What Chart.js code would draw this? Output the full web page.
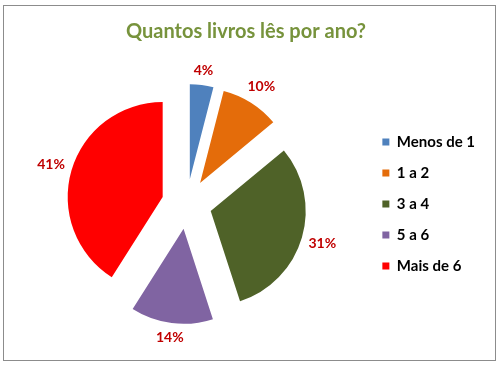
<!DOCTYPE html>
<html>
<head>
<meta charset="utf-8">
<script src="https://cdn.jsdelivr.net/npm/chart.js@4/dist/chart.umd.min.js"></script>
<style>
  html, body { margin: 0; padding: 0; background: #ffffff; }
  #wrap { position: relative; width: 498px; height: 365px; }
</style>
</head>
<body>
<div id="wrap"><canvas id="c" width="498" height="365"></canvas></div>
<script>
const title = 'Quantos livros lês por ano?';
const categories = ['Menos de 1', '1 a 2', '3 a 4', '5 a 6', 'Mais de 6'];
const percentages = [4, 10, 31, 14, 41];
const sliceColors = ['#4F81BD', '#E46C0A', '#4F6228', '#8064A2', '#FF0000'];

const EXPLODE = 25;
const FONT = 'Lato, "Open Sans", "Liberation Sans", sans-serif';

const chartBorder = {
  id: 'chartBorder',
  beforeDraw(chart) {
    const ctx = chart.ctx;
    ctx.save();
    ctx.strokeStyle = '#8c8c8c';
    ctx.lineWidth = 1;
    ctx.strokeRect(3.5, 5.5, 492, 355);
    ctx.restore();
  }
};

const explodedPie = {
  id: 'explodedPie',
  beforeDatasetDraw(chart, args) {
    const meta = args.meta;
    const ctx = chart.ctx;
    meta.data.forEach(arc => {
      const mid = (arc.startAngle + arc.endAngle) / 2;
      ctx.save();
      ctx.translate(Math.cos(mid) * EXPLODE, Math.sin(mid) * EXPLODE);
      arc.draw(ctx);
      ctx.restore();
    });
    return false;
  }
};

const outsideLabels = {
  id: 'outsideLabels',
  afterDatasetsDraw(chart) {
    const ctx = chart.ctx;
    const meta = chart.getDatasetMeta(0);
    ctx.save();
    ctx.font = 'bold 14px ' + FONT;
    ctx.fillStyle = '#C00000';
    ctx.textAlign = 'center';
    ctx.textBaseline = 'middle';
    meta.data.forEach((arc, i) => {
      const mid = (arc.startAngle + arc.endAngle) / 2;
      const dx = Math.cos(mid), dy = Math.sin(mid);
      const txt = percentages[i] + '%';
      const hw = ctx.measureText(txt).width / 2;
      const hh = 7;
      const d = EXPLODE + arc.outerRadius + 6 + hw * Math.abs(dx) + hh * Math.abs(dy);
      ctx.fillText(txt, arc.x + dx * d, arc.y + dy * d);
    });
    ctx.restore();
  }
};

new Chart(document.getElementById('c'), {
  type: 'pie',
  data: {
    labels: categories,
    datasets: [{
      data: percentages,
      backgroundColor: sliceColors,
      borderWidth: 0,
      offset: 0,
      hoverOffset: 0
    }]
  },
  options: {
    responsive: false,
    animation: false,
    radius: 95,
    layout: { padding: { top: 0, left: 7, right: 13, bottom: 11 } },
    plugins: {
      title: {
        display: true,
        text: title,
        color: '#77933C',
        font: { family: FONT, size: 20, weight: 'bold', lineHeight: 1.2 },
        padding: { top: 20, bottom: 10 }
      },
      legend: {
        position: 'right',
        fullSize: false,
        labels: {
          boxWidth: 7,
          boxHeight: 7,
          padding: 16,
          color: '#000000',
          font: { family: FONT, size: 15, weight: 'bold' }
        }
      },
      tooltip: { enabled: false }
    }
  },
  plugins: [chartBorder, explodedPie, outsideLabels]
});
</script>
</body>
</html>
